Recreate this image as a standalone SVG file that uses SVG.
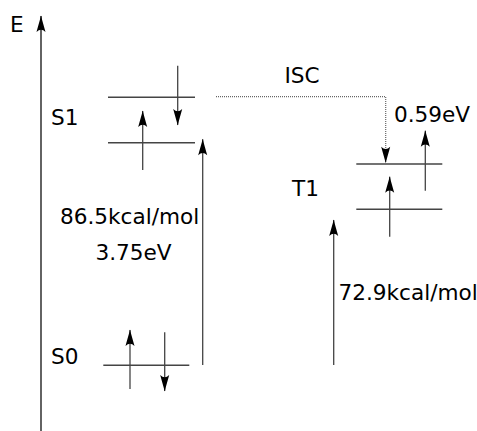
<svg xmlns="http://www.w3.org/2000/svg" width="477" height="431" viewBox="0 0 477 431">
<style>
text{font-family:"DejaVu Sans","Liberation Sans",sans-serif;font-size:21.6px;fill:#000}
.lvl{stroke:#444;stroke-width:1.4;fill:none}
.sh{stroke:#444;stroke-width:1.3;fill:none;marker-end:url(#ah)}
.dot{stroke:#666;stroke-width:1.2;stroke-dasharray:1,1;fill:none;marker-end:url(#ah)}
</style>
<defs>
<marker id="ah" markerUnits="userSpaceOnUse" viewBox="-17 -6 18 12" refX="0" refY="0" markerWidth="18" markerHeight="12" orient="auto" overflow="visible">
<path d="M0.5,0 C-5,-1.2 -10,-3 -16,-4.5 Q-11.5,0 -16,4.5 C-10,3 -5,1.2 0.5,0 Z" fill="#000"/>
</marker>
</defs>
<g id="axis">
<line x1="41" y1="431" x2="41" y2="16" stroke="#222" stroke-width="1.4" marker-end="url(#ah)"/>
<text x="10" y="32">E</text>
</g>
<g id="S1">
<text x="51" y="125">S1</text>
<line class="lvl" x1="108" y1="97.3" x2="195" y2="97.3"/>
<line class="lvl" x1="108" y1="142.7" x2="195" y2="142.7"/>
<line class="sh" x1="177.7" y1="65.7" x2="177.7" y2="125"/>
<line class="sh" x1="142.7" y1="170" x2="142.7" y2="111"/>
</g>
<g id="S0">
<text x="51" y="364">S0</text>
<line class="lvl" x1="103.3" y1="365.3" x2="189.3" y2="365.3"/>
<line class="sh" x1="130" y1="389" x2="130" y2="330"/>
<line class="sh" x1="164.7" y1="332.3" x2="164.7" y2="391"/>
</g>
<g id="T1">
<text x="292" y="195.7">T1</text>
<line class="lvl" x1="356.3" y1="164" x2="442.3" y2="164" stroke="#111"/>
<line class="lvl" x1="356.3" y1="209.3" x2="442.3" y2="209.3" stroke="#111"/>
<line class="sh" x1="425.3" y1="190.7" x2="425.3" y2="130.7"/>
<line class="sh" x1="389.7" y1="236.7" x2="389.7" y2="176.7"/>
</g>
<g id="connectors">
<line class="sh" x1="202.7" y1="365" x2="202.7" y2="139.3"/>
<line class="sh" x1="333.7" y1="365" x2="333.7" y2="220"/>
<polyline class="dot" points="216,96.7 385.7,96.7 385.7,162.7"/>
</g>
<g id="labels">
<text x="284.5" y="83.3">ISC</text>
<text x="394" y="121.7">0.59eV</text>
<text x="60" y="224">86.5kcal/mol</text>
<text x="95.5" y="260">3.75eV</text>
<text x="338.5" y="300">72.9kcal/mol</text>
</g>
</svg>
